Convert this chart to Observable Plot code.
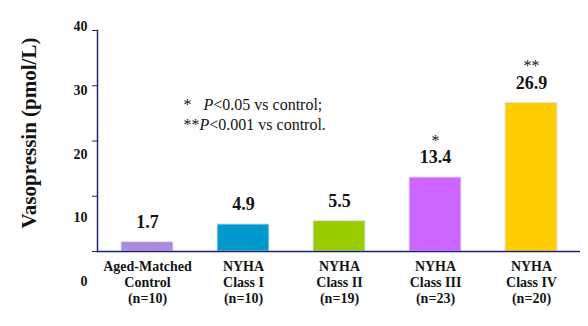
<!DOCTYPE html>
<html><head><meta charset="utf-8">
<script src="https://cdn.jsdelivr.net/npm/d3@7"></script>
<script src="https://cdn.jsdelivr.net/npm/@observablehq/plot@0.6"></script>
<style>body{margin:0;background:#fff;} #chart svg{display:block;}</style>
</head><body><div id="chart"></div>
<script>
const categories = ["Aged-Matched\nControl", "NYHA\nClass I", "NYHA\nClass II", "NYHA\nClass III", "NYHA\nClass IV"];
const groupSizes = [10, 10, 19, 23, 20];
const values = [1.7, 4.9, 5.5, 13.4, 26.9];
const significance = ["", "", "", "*", "**"];
const barColors = ["#A98BE0", "#0099CC", "#99CC00", "#CC66FF", "#FFCC00"];
const yTicks = [0, 10, 20, 30, 40];
const yTitle = "Vasopressin (pmol/L)";
const footnote = ["*   P<0.05 vs control;", "**P<0.001 vs control."];

const data = categories.map((c, i) => ({cat: c, n: groupSizes[i], value: values[i], sig: significance[i], color: barColors[i]}));
const nByCat = new Map(data.map(d => [d.cat, d.n]));

const font = "'Liberation Serif', 'DejaVu Serif', serif";
const ink = "#141414";
const axisColor = "#1c2270";
// tick labels in the reference are spread slightly wider than the ticks
const labelStretch = 1.153, labelShift = -5.43;

const chart = Plot.plot({
  width: 588,
  height: 326,
  marginTop: 30,
  marginBottom: 75,
  marginLeft: 97,
  marginRight: 8,
  style: {fontFamily: font, background: "#fff", color: ink},
  x: {domain: categories, paddingInner: 0.46, paddingOuter: 0.22, axis: null},
  y: {domain: [0, 40], axis: null},
  color: {type: "identity"},
  marks: [
    Plot.barY(data, {x: "cat", y: "value", fill: "color", stroke: "#e2e2f8", strokeWidth: 1}),
    Plot.ruleY([0], {stroke: axisColor, strokeWidth: 1.5}),
    Plot.frame({anchor: "left", stroke: axisColor, strokeWidth: 1.5}),
    Plot.axisY({ticks: yTicks, tickSize: 5, tickFormat: () => "", stroke: axisColor, label: null}),
    Plot.text(yTicks, {frameAnchor: "left", y: d => d * labelStretch + labelShift, text: d => String(d),
      textAnchor: "end", dx: -10, fontSize: 14, fontWeight: "bold", fill: ink}),
    Plot.axisX({tickSize: 0, tickPadding: 8, tickFormat: d => `${d}\n(n=${nByCat.get(d)})`,
      fontSize: 14, fontWeight: "bold", lineHeight: 1.15, fill: ink, label: null}),
    Plot.text(data, {x: "cat", y: "value", text: d => d3.format(".1f")(d.value), dy: -20,
      fontSize: 18, fontWeight: "bold", fill: ink}),
    Plot.text(data, {x: "cat", y: "value", text: "sig", dy: -37, fontSize: 16, fill: ink}),
    Plot.text([footnote.join("\n")], {frameAnchor: "top-left", dx: 86, dy: 83, lineAnchor: "middle",
      textAnchor: "start", lineHeight: 1.25, fontSize: 16, fill: ink}),
    Plot.text([yTitle], {frameAnchor: "left", rotate: -90, textAnchor: "middle", dx: -68, dy: -8, fontSize: 21,
      fontWeight: "bold", fill: ink})
  ]
});

// italicise the "P" in the footnote lines
chart.querySelectorAll("text tspan, text").forEach(el => {
  if (el.children.length === 0 && el.textContent.includes("P<")) {
    const t = el.textContent;
    const k = t.indexOf("P<");
    el.textContent = "";
    const ns = "http://www.w3.org/2000/svg";
    const a = document.createElementNS(ns, "tspan"); a.textContent = t.slice(0, k);
    const p = document.createElementNS(ns, "tspan"); p.textContent = "P"; p.setAttribute("font-style", "italic");
    const b = document.createElementNS(ns, "tspan"); b.textContent = t.slice(k + 1);
    el.append(a, p, b);
  }
});

document.getElementById("chart").append(chart);
</script>
</body></html>
